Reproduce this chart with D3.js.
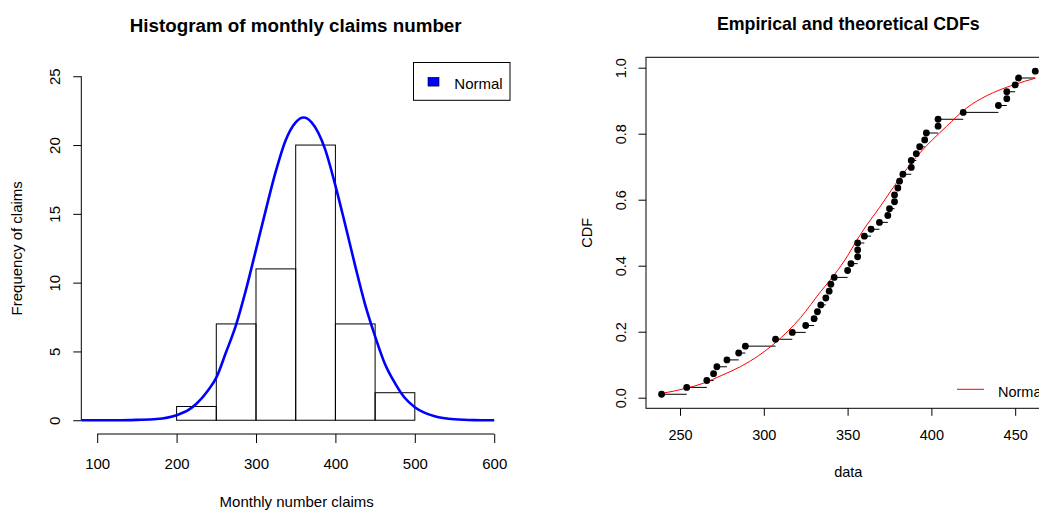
<!DOCTYPE html>
<html><head><meta charset="utf-8">
<script src="https://cdn.jsdelivr.net/npm/d3@7"></script>
<style>
html,body{margin:0;padding:0;background:#fff;}
svg{display:block;font-family:"Liberation Sans",Arial,Helvetica,sans-serif;}
</style></head><body>
<svg id="chart" width="1039" height="510"></svg>
<script>
// ---------- data ----------
const histBreaks = [200, 250, 300, 350, 400, 450, 500];
const histCounts = [1, 7, 11, 20, 7, 2];
const leftXTicks = [100, 200, 300, 400, 500, 600];
const leftYTicks = [0, 5, 10, 15, 20, 25];
const densityX = [80, 100, 125, 150, 175, 200, 215, 225, 240, 250, 262, 275, 287, 300, 312, 325, 337, 350, 360, 370, 387, 400, 412, 425, 437, 450, 462, 475, 487, 500, 512, 525, 550, 575, 600];
const densityY = [0, 0, 0, 0.03, 0.09, 0.37, 0.75, 1.2, 2.2, 3.1, 4.9, 6.95, 9.4, 12.4, 15.2, 18.1, 20.3, 21.65, 22, 21.65, 19.7, 17.05, 14.3, 11.2, 8.5, 6.1, 4.15, 2.7, 1.65, 0.95, 0.55, 0.29, 0.07, 0.01, 0];

const claims = [239, 254, 266, 270, 272, 278, 285, 289, 307, 317, 325, 330, 332, 334, 337, 339, 340, 342, 350, 352, 356, 356, 356, 360, 364, 369, 374, 375, 378, 378, 380, 381, 383, 388, 388, 391, 393, 396, 397, 404, 404, 419, 440, 445, 445, 450, 452, 462];
const cdfX = [239, 254, 264, 275, 286, 297, 307, 322, 334, 342, 350, 355, 359, 369, 383, 393, 409, 421, 433, 449, 462];
const cdfY = [0.013, 0.029, 0.044, 0.068, 0.094, 0.128, 0.167, 0.243, 0.322, 0.372, 0.43, 0.473, 0.505, 0.576, 0.678, 0.741, 0.822, 0.878, 0.915, 0.948, 0.968];
const rightXTicks = [250, 300, 350, 400, 450];
const rightYTicks = [0, 0.2, 0.4, 0.6, 0.8, 1.0];

const svg = d3.select("#chart");
const FONT = 15;

// ---------- LEFT PANEL ----------
const xL = d3.scaleLinear().domain([80, 620]).range([81.3, 510.1]);
const yL = d3.scaleLinear().domain([-1, 26]).range([434, 62.5]);
const gL = svg.append("g");

// bars
gL.selectAll("rect.bar").data(histCounts).join("rect")
  .attr("class", "bar")
  .attr("x", (d, i) => xL(histBreaks[i]))
  .attr("y", d => yL(d))
  .attr("width", (d, i) => xL(histBreaks[i + 1]) - xL(histBreaks[i]))
  .attr("height", d => yL(0) - yL(d))
  .attr("fill", "none").attr("stroke", "#000").attr("stroke-width", 1);

// density curve
const dens = densityX.map((x, i) => [x, densityY[i]]);
gL.append("path").datum(dens)
  .attr("d", d3.line().x(d => xL(d[0])).y(d => yL(d[1])).curve(d3.curveMonotoneX))
  .attr("fill", "none").attr("stroke", "#0000FF").attr("stroke-width", 2.6);

// y axis
const yAxL = gL.append("g").attr("transform", "translate(81.3,0)")
  .call(d3.axisLeft(yL).tickValues(leftYTicks).tickSize(8).tickSizeOuter(0));
yAxL.select(".domain").remove();
yAxL.append("line").attr("x1", 0).attr("x2", 0)
  .attr("y1", yL(leftYTicks[0])).attr("y2", yL(leftYTicks[leftYTicks.length - 1]))
  .attr("stroke", "#000");
yAxL.selectAll(".tick line").attr("stroke", "#000");
yAxL.selectAll(".tick text")
  .attr("transform", "rotate(-90)").attr("x", 0).attr("y", -21.3).attr("dy", 0)
  .attr("text-anchor", "middle").attr("font-size", FONT).attr("font-family", null).attr("fill", "#000");

// x axis
const xAxL = gL.append("g").attr("transform", "translate(0,434)")
  .call(d3.axisBottom(xL).tickValues(leftXTicks).tickSize(9).tickSizeOuter(0));
xAxL.select(".domain").remove();
xAxL.append("line").attr("y1", 0).attr("y2", 0)
  .attr("x1", xL(leftXTicks[0])).attr("x2", xL(leftXTicks[leftXTicks.length - 1]))
  .attr("stroke", "#000");
xAxL.selectAll(".tick text").attr("y", 35.3).attr("dy", 0)
  .attr("font-size", FONT).attr("font-family", null).attr("fill", "#000");

// titles
gL.append("text").attr("x", 295.7).attr("y", 32.3).attr("text-anchor", "middle")
  .attr("font-weight", "bold").attr("font-size", 18.8).text("Histogram of monthly claims number");
gL.append("text").attr("x", 296.7).attr("y", 506.5).attr("text-anchor", "middle")
  .attr("font-size", FONT).text("Monthly number claims");
gL.append("text").attr("transform", "translate(21.5,248.3) rotate(-90)").attr("text-anchor", "middle")
  .attr("font-size", FONT).text("Frequency of claims");

// legend
const legL = gL.append("g");
legL.append("rect").attr("x", 413.5).attr("y", 62.5).attr("width", 96.5).attr("height", 37.8)
  .attr("fill", "#fff").attr("stroke", "#000");
legL.append("rect").attr("x", 428).attr("y", 77.3).attr("width", 11).attr("height", 8.8)
  .attr("fill", "#0000FF").attr("stroke", "#000").attr("stroke-width", 0.6);
legL.append("text").attr("x", 454.3).attr("y", 89.3).attr("font-size", FONT).text("Normal");

// ---------- RIGHT PANEL ----------
const xR = d3.scaleLinear().domain([229.7, 470.9]).range([646, 1050.2]);
const yR = d3.scaleLinear().domain([-0.0321, 1.0315]).range([408.3, 57.3]);
const gR = svg.append("g");

gR.append("rect").attr("x", 646).attr("y", 57.3)
  .attr("width", xR.range()[1] - 646).attr("height", 408.3 - 57.3)
  .attr("fill", "none").attr("stroke", "#000");

const n = claims.length;
const ecdf = claims.map((v, i) => ({x: v, nx: i < n - 1 ? claims[i + 1] : v, p: (i + 0.5) / n}));

gR.selectAll("line.step").data(ecdf).join("line").attr("class", "step")
  .attr("x1", d => xR(d.x)).attr("x2", d => xR(d.nx))
  .attr("y1", d => yR(d.p)).attr("y2", d => yR(d.p))
  .attr("stroke", "#000").attr("stroke-width", 1);

const cdfPts = cdfX.map((x, i) => [x, cdfY[i]]);
gR.append("path").datum(cdfPts)
  .attr("d", d3.line().x(d => xR(d[0])).y(d => yR(d[1])).curve(d3.curveMonotoneX))
  .attr("fill", "none").attr("stroke", "#FF0000").attr("stroke-width", 1);

gR.selectAll("circle.pt").data(ecdf).join("circle").attr("class", "pt")
  .attr("cx", d => xR(d.x)).attr("cy", d => yR(d.p)).attr("r", 3.4).attr("fill", "#000");

// axes
const xAxR = gR.append("g").attr("transform", "translate(0,408.3)")
  .call(d3.axisBottom(xR).tickValues(rightXTicks).tickSize(7.5).tickSizeOuter(0));
xAxR.select(".domain").remove();
xAxR.selectAll(".tick text").attr("y", 31.7).attr("dy", 0)
  .attr("font-size", 14.5).attr("font-family", null).attr("fill", "#000");

const yAxR = gR.append("g").attr("transform", "translate(646,0)")
  .call(d3.axisLeft(yR).tickValues(rightYTicks).tickSize(7.5).tickSizeOuter(0).tickFormat(d3.format(".1f")));
yAxR.select(".domain").remove();
yAxR.selectAll(".tick text")
  .attr("transform", "rotate(-90)").attr("x", 0).attr("y", -20.5).attr("dy", 0)
  .attr("text-anchor", "middle").attr("font-size", 14.5).attr("font-family", null).attr("fill", "#000");

gR.append("text").attr("x", 848.3).attr("y", 29.5).attr("text-anchor", "middle")
  .attr("font-weight", "bold").attr("font-size", 17.8).text("Empirical and theoretical CDFs");
gR.append("text").attr("x", 848.3).attr("y", 476.5).attr("text-anchor", "middle")
  .attr("font-size", 14.5).text("data");
gR.append("text").attr("transform", "translate(591.5,232.8) rotate(-90)").attr("text-anchor", "middle")
  .attr("font-size", 14.5).text("CDF");

// legend
gR.append("line").attr("x1", 957).attr("x2", 984).attr("y1", 389.3).attr("y2", 389.3)
  .attr("stroke", "#FF0000").attr("stroke-width", 1);
gR.append("text").attr("x", 998).attr("y", 396.5).attr("font-size", 14.5).text("Normal");
</script>
</body></html>
